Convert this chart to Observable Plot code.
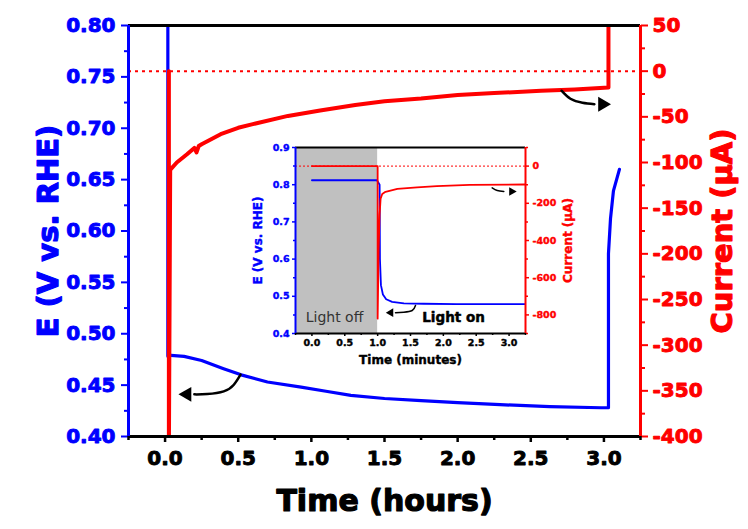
<!DOCTYPE html>
<html><head><meta charset="utf-8">
<script src="https://cdn.jsdelivr.net/npm/d3@7"></script>
<script src="https://cdn.jsdelivr.net/npm/@observablehq/plot@0.6"></script>
<style>
body{margin:0;background:#fff;}
#wrap{position:relative;width:748px;height:529px;overflow:hidden;background:#fff;}
#wrap svg{position:absolute;}
</style></head><body><div id="wrap"></div>
<script>
const BLUE = "#0000ff", RED = "#ff0000";

// ---------- main chart data (time in hours) ----------
const eTime  = [0.019, 0.019, 0.04, 0.13, 0.25, 0.40, 0.52, 0.70, 0.93, 1.10, 1.27, 1.50, 1.75, 2.00, 2.29, 2.63, 2.98, 3.031, 3.031, 3.045, 3.065, 3.106];
const eValue = [0.85, 0.478, 0.479, 0.478, 0.474, 0.466, 0.460, 0.453, 0.448, 0.444, 0.440, 0.437, 0.435, 0.433, 0.431, 0.429, 0.428, 0.428, 0.578, 0.612, 0.639, 0.660];

const iTime  = [0.026, 0.026, 0.035, 0.08, 0.15, 0.20, 0.215, 0.23, 0.25, 0.38, 0.50, 0.60, 0.84, 1.06, 1.30, 1.50, 1.75, 2.00, 2.25, 2.57, 2.80, 3.031, 3.031];
const iValue = [0, -420, -108, -100, -91, -84, -89, -82, -80, -69, -62, -58, -49, -43, -37, -33, -30, -26, -24, -21.5, -20, -18, 80];

const xTicks = [0, 0.5, 1, 1.5, 2, 2.5, 3];
const xMinor = [-0.25, 0.25, 0.75, 1.25, 1.75, 2.25, 2.75, 3.25];
const eTicks = [0.40, 0.45, 0.50, 0.55, 0.60, 0.65, 0.70, 0.75, 0.80];
const eMinor = [0.425, 0.475, 0.525, 0.575, 0.625, 0.675, 0.725, 0.775];
const iTicks = [-400, -350, -300, -250, -200, -150, -100, -50, 0, 50];
const iMinor = [-375, -325, -275, -225, -175, -125, -75, -25, 25];

// annotation arrows (main)
const arrowETime = [0.516, 0.470, 0.401, 0.288, 0.20];
const arrowEVal  = [0.4602, 0.4504, 0.4439, 0.4413, 0.441];
const arrowEHead = {t: 0.15, v: 0.441};
const arrowITime = [2.710, 2.771, 2.853, 2.935];
const arrowIVal  = [-21.4, -30.2, -34.6, -36.2];
const arrowIHead = {t: 2.99, v: -36.2};

// ---------- inset data (time in minutes) ----------
const inETime  = [0, 0.99, 1.03, 1.035, 1.05, 1.08, 1.13, 1.22, 1.40, 1.70, 2.20, 3.25];
const inEValue = [0.812, 0.812, 0.80, 0.60, 0.53, 0.505, 0.492, 0.485, 0.481, 0.480, 0.479, 0.479];
const inITime  = [0, 1.0, 1.0, 1.015, 1.03, 1.045, 1.07, 1.12, 1.30, 1.60, 1.90, 2.40, 3.25];
const inIValue = [0, 0, -820, -450, -260, -175, -150, -138, -122, -114, -108, -101, -99];
const inXTicks = [0, 0.5, 1, 1.5, 2, 2.5, 3];
const inXMinor = [-0.25, 0.25, 0.75, 1.25, 1.75, 2.25, 2.75, 3.25];
const inETicks = [0.4, 0.5, 0.6, 0.7, 0.8, 0.9];
const inEMinor = [0.45, 0.55, 0.65, 0.75, 0.85];
const inITicks = [-800, -600, -400, -200, 0];
const inIMinor = [-900, -700, -500, -300, -100, 100];
const lightOff = [{t1: -0.25, t2: 1.0}];
const inArrowETime = [1.576, 1.526, 1.398, 1.272];
const inArrowEVal  = [0.4753, 0.4618, 0.4573, 0.4556];
const inArrowEHead = {t: 1.20, v: 0.4560};
const inArrowITime = [2.743, 2.820, 2.920];
const inArrowIVal  = [-116.7, -131, -136.6];
const inArrowIHead = {t: 3.04, v: -136.6};

// ---------- main plot ----------
const toE = I => 0.40 + (I + 400) / 450 * 0.40;
const fromE = e => (e - 0.40) / 0.40 * 450 - 400;
const ePts = eTime.map((t, i) => ({t, v: eValue[i]}));
const iPts = iTime.map((t, i) => ({t, v: toE(iValue[i])}));
const aE = arrowETime.map((t, i) => ({t, v: arrowEVal[i]}));
const aI = arrowITime.map((t, i) => ({t, v: toE(arrowIVal[i])}));

const main = Plot.plot({
  width: 748, height: 529,
  marginLeft: 128, marginRight: 108, marginTop: 25, marginBottom: 93,
  x: {domain: [-0.25, 3.25]},
  y: {domain: [0.40, 0.80]},
  style: {fontFamily: "DejaVu Sans", fontWeight: "bold", background: "transparent", overflow: "visible"},
  marks: [
    Plot.ruleY([toE(0)], {stroke: RED, strokeWidth: 2, strokeDasharray: "3,4"}),
    Plot.line(ePts, {x: "t", y: "v", stroke: BLUE, strokeWidth: 3.2, clip: true}),
    Plot.line(iPts, {x: "t", y: "v", stroke: RED, strokeWidth: 4, clip: true}),
    Plot.line(aE, {x: "t", y: "v", curve: "natural", stroke: "black", strokeWidth: 2.5}),
    Plot.dot([arrowEHead], {x: "t", y: "v", symbol: "triangle", rotate: -90, r: 5.5, fill: "black", stroke: null}),
    Plot.line(aI, {x: "t", y: "v", curve: "natural", stroke: "black", strokeWidth: 2.5}),
    Plot.dot([arrowIHead], {x: "t", y: d => toE(d.v), symbol: "triangle", rotate: 90, r: 5.5, fill: "black", stroke: null}),
    Plot.ruleY([0.80], {stroke: "black", strokeWidth: 3}),
    Plot.ruleY([0.40], {stroke: "black", strokeWidth: 3}),
    Plot.ruleX([-0.25], {stroke: BLUE, strokeWidth: 3}),
    Plot.ruleX([3.25], {stroke: RED, strokeWidth: 3}),
    Plot.axisY({ticks: eTicks, anchor: "left", tickSize: 7, tickPadding: 6, tickFormat: d => d.toFixed(2), color: BLUE, fontSize: 20, strokeWidth: 2, textStroke: BLUE, textStrokeWidth: 0.9, label: null}),
    Plot.axisY({ticks: eMinor, anchor: "left", tickSize: 4, tickFormat: () => "", color: BLUE, strokeWidth: 2, label: null}),
    Plot.axisY({ticks: iTicks.map(toE), anchor: "right", tickSize: 7, tickPadding: 5, tickFormat: d => String(Math.round(fromE(d))), color: RED, fontSize: 20, strokeWidth: 2, textStroke: RED, textStrokeWidth: 0.9, label: null}),
    Plot.axisY({ticks: iMinor.map(toE), anchor: "right", tickSize: 4, tickFormat: () => "", color: RED, strokeWidth: 2, label: null}),
    Plot.axisX({ticks: xTicks, anchor: "bottom", tickSize: 6, tickPadding: 8, tickFormat: d => d.toFixed(1), color: "black", fontSize: 20, strokeWidth: 2.5, textStroke: "black", textStrokeWidth: 0.9, label: null}),
    Plot.axisX({ticks: xMinor, anchor: "bottom", tickSize: 4, tickFormat: () => "", color: "black", strokeWidth: 2.5, label: null}),
    Plot.text(["E (V vs. RHE)"], {text: d => d, frameAnchor: "left", dx: -80, rotate: -90, fill: BLUE, stroke: BLUE, strokeWidth: 1.2, fontSize: 29, textAnchor: "middle"}),
    Plot.text(["Current (µA)"], {text: d => d, frameAnchor: "right", dx: 82, rotate: -90, fill: RED, stroke: RED, strokeWidth: 1.2, fontSize: 29, textAnchor: "middle"}),
    Plot.text(["Time (hours)"], {text: d => d, frameAnchor: "bottom", dy: 74, fill: "black", stroke: "black", strokeWidth: 1.2, fontSize: 30, textAnchor: "middle"})
  ]
});
main.style.left = "0px"; main.style.top = "0px";
document.getElementById("wrap").appendChild(main);

// ---------- inset plot ----------
const toE2 = I => 0.4 + (I + 900) / 1000 * 0.5;
const fromE2 = e => (e - 0.4) / 0.5 * 1000 - 900;
const inE = inETime.map((t, i) => ({t, v: inEValue[i]}));
const inI = inITime.map((t, i) => ({t, v: toE2(inIValue[i])}));
const iaE = inArrowETime.map((t, i) => ({t, v: inArrowEVal[i]}));
const iaI = inArrowITime.map((t, i) => ({t, v: toE2(inArrowIVal[i])}));

const inset = Plot.plot({
  width: 345, height: 240,
  marginLeft: 55, marginRight: 60, marginTop: 12, marginBottom: 42,
  x: {domain: [-0.25, 3.25]},
  y: {domain: [0.4, 0.9]},
  style: {fontFamily: "DejaVu Sans", fontWeight: "bold", background: "transparent", overflow: "visible"},
  marks: [
    Plot.rect(lightOff, {x1: "t1", x2: "t2", y1: () => 0.4, y2: () => 0.9, fill: "#c0c0c0"}),
    Plot.ruleY([toE2(0)], {stroke: RED, strokeWidth: 1, strokeDasharray: "2,2"}),
    Plot.line(inE, {x: "t", y: "v", stroke: BLUE, strokeWidth: 1.8, clip: true}),
    Plot.line(inI, {x: "t", y: "v", stroke: RED, strokeWidth: 1.8, clip: true}),
    Plot.line(iaE, {x: "t", y: "v", curve: "natural", stroke: "black", strokeWidth: 1.5}),
    Plot.dot([inArrowEHead], {x: "t", y: "v", symbol: "triangle", rotate: -90, r: 3.2, fill: "black", stroke: null}),
    Plot.line(iaI, {x: "t", y: "v", curve: "natural", stroke: "black", strokeWidth: 1.5}),
    Plot.dot([inArrowIHead], {x: "t", y: d => toE2(d.v), symbol: "triangle", rotate: 90, r: 3.2, fill: "black", stroke: null}),
    Plot.ruleY([0.9], {stroke: "black", strokeWidth: 2}),
    Plot.ruleY([0.4], {stroke: "black", strokeWidth: 2}),
    Plot.ruleX([-0.25], {stroke: BLUE, strokeWidth: 2}),
    Plot.ruleX([3.25], {stroke: RED, strokeWidth: 2}),
    Plot.axisY({ticks: inETicks, anchor: "left", tickSize: 3, tickPadding: 3, tickFormat: d => d.toFixed(1), color: BLUE, fontSize: 9.5, strokeWidth: 1.5, textStroke: BLUE, textStrokeWidth: 0.4, label: null}),
    Plot.axisY({ticks: inEMinor, anchor: "left", tickSize: 2, tickFormat: () => "", color: BLUE, strokeWidth: 1.5, label: null}),
    Plot.axisY({ticks: inITicks.map(toE2), anchor: "right", tickSize: 3, tickPadding: 4, tickFormat: d => String(Math.round(fromE2(d))), color: RED, fontSize: 9.5, strokeWidth: 1.5, textStroke: RED, textStrokeWidth: 0.4, label: null}),
    Plot.axisY({ticks: inIMinor.map(toE2), anchor: "right", tickSize: 2, tickFormat: () => "", color: RED, strokeWidth: 1.5, label: null}),
    Plot.axisX({ticks: inXTicks, anchor: "bottom", tickSize: 3, tickPadding: 3, tickFormat: d => d.toFixed(1), color: "black", fontSize: 9.5, strokeWidth: 1.5, textStroke: "black", textStrokeWidth: 0.4, label: null}),
    Plot.axisX({ticks: inXMinor, anchor: "bottom", tickSize: 2, tickFormat: () => "", color: "black", strokeWidth: 1.5, label: null}),
    Plot.text(["Light off"], {text: d => d, frameAnchor: "bottom-left", dx: 39, dy: -12, fill: "#333333", fontSize: 14, fontWeight: "normal", textAnchor: "middle"}),
    Plot.text(["Light on"], {text: d => d, frameAnchor: "bottom-left", dx: 158, dy: -12, fill: "black", stroke: "black", strokeWidth: 0.5, fontSize: 13.5, textAnchor: "middle"}),
    Plot.text(["E (V vs. RHE)"], {text: d => d, frameAnchor: "left", dx: -37, rotate: -90, fill: BLUE, stroke: BLUE, strokeWidth: 0.4, fontSize: 12, textAnchor: "middle"}),
    Plot.text(["Current (µA)"], {text: d => d, frameAnchor: "right", dx: 43, rotate: -90, fill: RED, stroke: RED, strokeWidth: 0.4, fontSize: 12, textAnchor: "middle"}),
    Plot.text(["Time (minutes)"], {text: d => d, frameAnchor: "bottom", dy: 30, fill: "black", stroke: "black", strokeWidth: 0.4, fontSize: 12, textAnchor: "middle"})
  ]
});
inset.style.left = "240px"; inset.style.top = "135px";
document.getElementById("wrap").appendChild(inset);
</script>
</body></html>
